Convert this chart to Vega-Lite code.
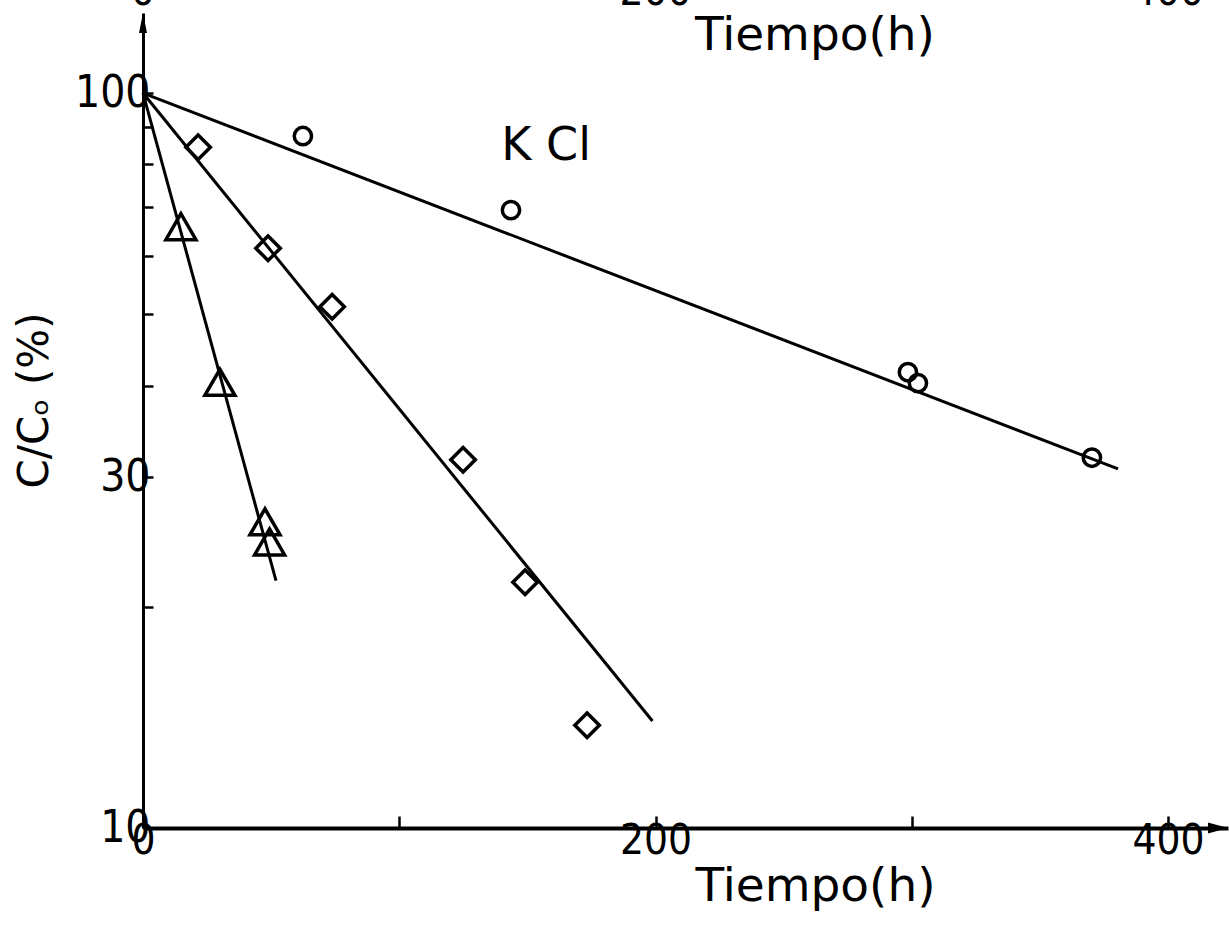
{
  "$schema": "https://vega.github.io/schema/vega-lite/v6.json",
  "width": 1085,
  "height": 815,
  "autosize": {"type": "none"},
  "padding": {"left": 143, "top": 13, "right": 1, "bottom": 105},
  "background": "white",
  "config": {
    "view": {"stroke": null},
    "axis": {"grid": false, "domainColor": "black", "tickColor": "black", "labelColor": "black", "titleColor": "black"}
  },
  "encoding": {
    "x": {
      "field": "t", "type": "quantitative",
      "scale": {"domain": [0, 423.4], "nice": false, "zero": false},
      "axis": {
        "title": "Tiempo(h)", "values": [0, 100, 200, 300, 400],
        "labelExpr": "datum.value % 200 == 0 ? datum.label : ''",
        "tickSize": -12, "tickWidth": 2.5, "domainWidth": 4,
        "labelPadding": 4, "labelFont": "Liberation Sans Narrow, DejaVu Sans Condensed, sans-serif",
        "labelFontSize": 42, "labelFlush": false, "labelOverlap": false,
        "titleFont": "DejaVu Sans", "titleFontSize": 47, "titleFontWeight": "normal",
        "titlePadding": 2, "titleX": 672
      }
    },
    "y": {
      "field": "c", "type": "quantitative",
      "scale": {"type": "log", "domain": [10, 128.5], "nice": false},
      "axis": {
        "title": "C/Cₒ (%)", "values": [10, 20, 30, 40, 50, 60, 70, 80, 90, 100],
        "format": "d",
        "labelExpr": "(datum.value == 10 || datum.value == 30 || datum.value == 100) ? datum.label : ''",
        "tickSize": -10, "tickWidth": 2.5, "domainWidth": 3,
        "labelPadding": 3, "labelFont": "Liberation Sans Narrow, DejaVu Sans Condensed, sans-serif",
        "labelFontSize": 44, "labelFlush": false, "labelOverlap": false,
        "titleFont": "DejaVu Sans", "titleFontSize": 42, "titleFontWeight": "normal",
        "titlePadding": 18, "titleY": 387
      }
    }
  },
  "layer": [
    {
      "data": {"values": [
        {"series": "KCl", "t": 0, "c": 100},
        {"series": "KCl", "t": 380.5, "c": 30.8},
        {"series": "diamond", "t": 0, "c": 100},
        {"series": "diamond", "t": 198.8, "c": 13.98},
        {"series": "triangle", "t": 0, "c": 100},
        {"series": "triangle", "t": 51.9, "c": 21.7}
      ]},
      "mark": {"type": "line", "color": "black", "strokeWidth": 3},
      "encoding": {"detail": {"field": "series"}}
    },
    {
      "data": {"values": [
        {"series": "KCl", "t": 62.4, "c": 87.4},
        {"series": "KCl", "t": 143.6, "c": 69.3},
        {"series": "KCl", "t": 298.5, "c": 41.7},
        {"series": "KCl", "t": 302.4, "c": 40.3},
        {"series": "KCl", "t": 370.3, "c": 31.9},
        {"series": "diamond", "t": 21.5, "c": 84.4},
        {"series": "diamond", "t": 48.8, "c": 61.5},
        {"series": "diamond", "t": 73.8, "c": 51.2},
        {"series": "diamond", "t": 124.9, "c": 31.7},
        {"series": "diamond", "t": 149.1, "c": 21.6},
        {"series": "diamond", "t": 173.3, "c": 13.8},
        {"series": "triangle", "t": 14.8, "c": 65.8},
        {"series": "triangle", "t": 30.0, "c": 40.4},
        {"series": "triangle", "t": 47.6, "c": 26.1},
        {"series": "triangle", "t": 49.4, "c": 24.5}
      ]},
      "mark": {"type": "point", "filled": false, "color": "black", "strokeWidth": 3.5, "opacity": 1},
      "encoding": {
        "shape": {"field": "series", "type": "nominal", "scale": {"domain": ["KCl", "diamond", "triangle"], "range": ["circle", "diamond", "triangle-up"]}, "legend": null},
        "size": {"field": "series", "type": "nominal", "scale": {"domain": ["KCl", "diamond", "triangle"], "range": [300, 900, 370]}, "legend": null}
      }
    },
    {
      "data": {"values": [{"t": 0, "c": 128.5}]},
      "mark": {"type": "point", "filled": true, "color": "black", "opacity": 1, "size": 400, "strokeWidth": 0, "shape": "M0,0L-0.4,2L0.4,2Z"}
    },
    {
      "data": {"values": [{"t": 423.4, "c": 10}]},
      "mark": {"type": "point", "filled": true, "color": "black", "opacity": 1, "size": 400, "strokeWidth": 0, "shape": "M0,0L-2,-0.55L-2,0.55Z"}
    },
    {
      "data": {"values": [{"label": "K Cl", "t": 157.3, "c": 84.7}]},
      "mark": {"type": "text", "font": "DejaVu Sans", "fontSize": 46, "align": "center", "baseline": "middle", "color": "black"},
      "encoding": {"text": {"field": "label"}}
    },
    {
      "data": {"values": [{"label": "Tiempo(h)", "t": 262.2, "c": 114.4}]},
      "mark": {"type": "text", "font": "DejaVu Sans", "fontSize": 47, "align": "center", "baseline": "alphabetic", "color": "black"},
      "encoding": {"text": {"field": "label"}}
    },
    {
      "data": {"values": [
        {"label": "0", "t": 0, "c": 131.8},
        {"label": "200", "t": 200, "c": 131.8},
        {"label": "400", "t": 400, "c": 131.8}
      ]},
      "mark": {"type": "text", "font": "Liberation Sans Narrow, DejaVu Sans Condensed, sans-serif", "fontSize": 42, "align": "center", "baseline": "alphabetic", "color": "black"},
      "encoding": {"text": {"field": "label"}}
    }
  ]
}
